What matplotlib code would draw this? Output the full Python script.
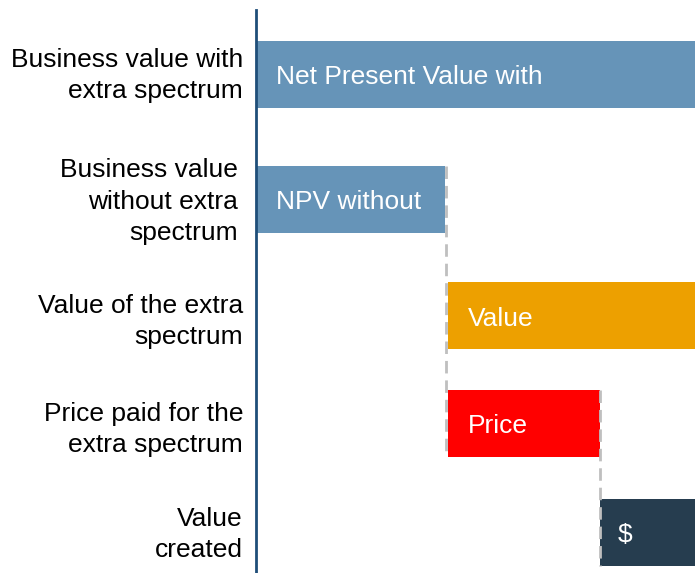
import matplotlib
matplotlib.use("Agg")
import matplotlib.pyplot as plt
import matplotlib.transforms as mtransforms
import numpy as np

plt.rcParams['font.family'] = ['Liberation Sans', 'DejaVu Sans']

# Waterfall steps (arbitrary value units)
categories = [
    "Business value with\nextra spectrum",
    "Business value\nwithout extra\nspectrum",
    "Value of the extra\nspectrum",
    "Price paid for the\nextra spectrum",
    "Value\ncreated",
]
bar_labels = ["Net Present Value with", "NPV without", "Value", "Price", "$"]
npv_without = 4.3
value_extra = 7.0
price_paid = 3.46
value_created = value_extra - price_paid
npv_with = npv_without + value_extra

# the increment bars sit just clear of the base bar
step_gap = 0.07
starts = [0.0, 0.0, npv_without + step_gap, npv_without + step_gap,
          npv_without + step_gap + price_paid]
widths = [npv_with, npv_without, value_extra, price_paid, value_created]
colors = ["#6694B8", "#6694B8", "#EDA000", "#FF0000", "#263D4F"]

# Row layout (row centres in row units, top to bottom)
row_y = np.array([0.0, 1.092, 2.109, 3.048, 4.0])
bar_h = 0.585
# fine placement of the row captions, in pixels (x from the axis, y shift)
cap_dx = [-13, -18, -13, -13, -13]
cap_dy = [5, 4, 0, 0, 4]

fig = plt.figure(figsize=(6.95, 5.73), dpi=100)
ax = fig.add_axes([256 / 695, 0.0, 1 - 256 / 695, 563 / 573])

ax.barh(row_y, widths, left=starts, height=bar_h, color=colors, zorder=2)

for i, (s, lab) in enumerate(zip(starts, bar_labels)):
    ax.annotate(lab, xy=(s, row_y[i]), xytext=(20 if i != 4 else 18, -3),
                textcoords="offset pixels",
                va="center", ha="left", color="white", fontsize=19, zorder=4)

# row captions left of the axis
ytrans = mtransforms.blended_transform_factory(ax.transAxes, ax.transData)
for i, cat in enumerate(categories):
    tr = ytrans + mtransforms.ScaledTranslation(cap_dx[i] / 100, cap_dy[i] / 100,
                                                fig.dpi_scale_trans)
    ax.text(0, row_y[i], cat, transform=tr, ha="right", va="center_baseline",
            multialignment="right", linespacing=1.37, fontsize=19,
            color="black", clip_on=False)

# dashed connectors between steps
conn = [(npv_without + 0.02, 1, 3), (npv_without + step_gap + price_paid, 3, 4)]
for x, r0, r1 in conn:
    ax.plot([x, x], [row_y[r0] - bar_h / 2, row_y[r1] + bar_h / 2],
            color="#BFBFBF", lw=2, ls=(0, (4.5, 2.5)), zorder=3)

ax.set_xlim(0, 10.0)
ax.set_ylim(4.354, -0.563)
ax.set_yticks([])
ax.set_xticks([])
for side in ("top", "right", "bottom"):
    ax.spines[side].set_visible(False)
ax.spines["left"].set_color("#1F4E79")
ax.spines["left"].set_linewidth(2)

fig.savefig("out.png", dpi=100)
